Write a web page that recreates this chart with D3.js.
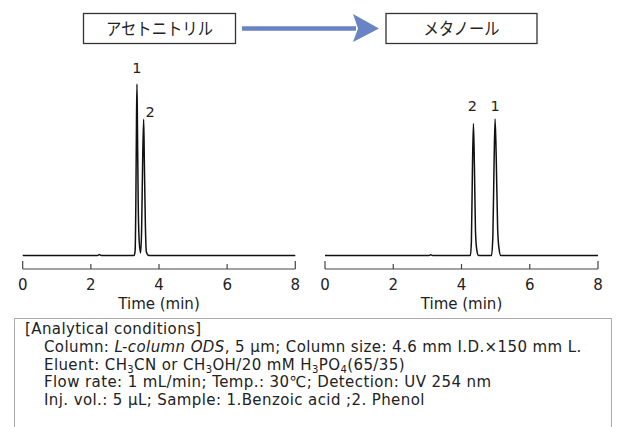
<!DOCTYPE html>
<html><head><meta charset="utf-8">
<script src="https://cdn.jsdelivr.net/npm/d3@7"></script>
<style>
html,body{margin:0;padding:0;background:#fff;}
svg{display:block;}
</style></head>
<body>
<svg id="c" width="619" height="427"></svg>
<script>
// ---- data ----
const solventLabels = ["アセトニトリル", "メタノール"];
const xTicks = [0, 2, 4, 6, 8];
const xLabel = "Time (min)";

// Acetonitrile chromatogram (time min, signal arbitrary)
const acnTime   = [0, 2.20, 2.25, 2.30, 3.27, 3.30, 3.32, 3.34, 3.354, 3.37, 3.39, 3.42, 3.46, 3.49, 3.52, 3.55, 3.57, 3.60, 3.63, 3.70, 8];
const acnSignal = [0, 0,    0.6,  0,    0,    3,    30,   80,   100,   70,   30,   8,    1.5,  15,   55,   79.4, 55,   18,   2,    0,    0];
// Methanol chromatogram
const meohTime   = [0, 3.05, 3.10, 3.15, 4.26, 4.29, 4.32, 4.35, 4.38, 4.41, 4.45, 4.50, 4.88, 4.92, 4.955, 4.985, 5.02, 5.06, 5.10, 5.15, 8];
const meohSignal = [0, 0,    0.4,  0,    0,    8,    50,   77,   50,   14,   3,    0,    0,    12,   55,    79.6,  55,   15,   4,    0,    0];

const acnPeaks  = [{label:"1", t:3.354, s:100}, {label:"2", t:3.55, s:79.4}];
const meohPeaks = [{label:"2", t:4.35, s:77}, {label:"1", t:4.985, s:79.6}];

const conditionLines = [
  [{t:"[Analytical  conditions]"}],
  [{t:"Column: "},{t:"L-column ODS",i:true},{t:", 5 µm; Column size: 4.6 mm I.D.×150 mm L."}],
  [{t:"Eluent: CH"},{t:"3",sub:true},{t:"CN or CH"},{t:"3",sub:true},{t:"OH/20 mM H"},{t:"3",sub:true},{t:"PO"},{t:"4",sub:true},{t:"(65/35)"}],
  [{t:"Flow rate: 1 mL/min; Temp.: 30℃; Detection: UV 254 nm"}],
  [{t:"Inj. vol.: 5 µL; Sample: 1.Benzoic acid ;2. Phenol"}]
];

// ---- drawing ----
const svg = d3.select("#c");
const txtFont = "'DejaVu Sans', Verdana, sans-serif";
const jpFont = "'Noto Sans CJK JP', sans-serif";

// header boxes
const boxes = [{x:83.5, w:152, tl:107}, {x:386, w:151, tl:76}];
boxes.forEach((b,i)=>{
  svg.append("rect").attr("x",b.x).attr("y",13.5).attr("width",b.w).attr("height",30)
    .attr("fill","#fff").attr("stroke","#333").attr("stroke-width",1.3);
  svg.append("text").attr("x",b.x+b.w/2 - b.tl/2).attr("y",35)
    .attr("textLength",b.tl).attr("lengthAdjust","spacingAndGlyphs")
    .attr("font-family",jpFont).attr("font-size",17).attr("fill","#222").text(solventLabels[i]);
});
// arrow
svg.append("line").attr("x1",242).attr("x2",356).attr("y1",28.5).attr("y2",28.5)
  .attr("stroke","#6884c4").attr("stroke-width",4.5);
svg.append("path").attr("d","M353,14 L379,28.5 L353,42 L358,28.5 Z").attr("fill","#6884c4");

const y = d3.scaleLinear().domain([0,100]).range([255.5, 84]);
const axisY = 269;

function panel(x0, x1, times, signals, peaks, labelPos){
  const x = d3.scaleLinear().domain([0,8]).range([x0,x1]);
  const pts = times.map((t,i)=>[t, signals[i]]);
  const line = d3.line().x(d=>x(d[0])).y(d=>y(d[1])).curve(d3.curveMonotoneX);
  svg.append("path").attr("d",line(pts)).attr("fill","none").attr("stroke","#111")
    .attr("stroke-width",1.5).attr("stroke-linejoin","round");
  // axis
  const g = svg.append("g");
  g.append("line").attr("x1",x(0)).attr("x2",x(8)).attr("y1",axisY).attr("y2",axisY)
    .attr("stroke","#444").attr("stroke-width",1.2);
  xTicks.forEach((t,i)=>{
    const end = (i===0||i===xTicks.length-1);
    g.append("line").attr("x1",x(t)).attr("x2",x(t)).attr("y1",axisY).attr("y2",axisY-(end?8:5))
      .attr("stroke","#444").attr("stroke-width",1.2);
    g.append("text").attr("x",x(t)).attr("y",axisY+21).attr("text-anchor","middle")
      .attr("font-family",txtFont).attr("font-size",15).attr("fill","#222").text(t);
  });
  g.append("text").attr("x",(x(0)+x(8))/2).attr("y",axisY+40).attr("text-anchor","middle")
    .attr("font-family",txtFont).attr("font-size",15).attr("fill","#222").text(xLabel);
  peaks.forEach((p,i)=>{
    const lp = labelPos[i];
    svg.append("text").attr("x",x(p.t)+lp.dx).attr("y",y(p.s)+lp.dy).attr("text-anchor","middle")
      .attr("font-family",txtFont).attr("font-size",14.5).attr("fill","#222").text(p.label);
  });
}
panel(22.7, 295.3, acnTime, acnSignal, acnPeaks, [{dx:0,dy:-11},{dx:6.5,dy:-2}]);
panel(325, 598, meohTime, meohSignal, meohPeaks, [{dx:-1,dy:-12},{dx:0,dy:-8}]);

// conditions box
svg.append("rect").attr("x",14.5).attr("y",318.5).attr("width",597).attr("height",120)
  .attr("fill","none").attr("stroke","#aaa").attr("stroke-width",1);
conditionLines.forEach((ln,i)=>{
  const t = svg.append("text").attr("x", i===0?25:44).attr("y",334+i*17.8)
    .attr("font-family",txtFont).attr("font-size",15).attr("letter-spacing",0.4).attr("fill","#222");
  let prevSub = false;
  ln.forEach(seg=>{
    const ts = t.append("tspan").text(seg.t);
    if(seg.i) ts.attr("font-style","italic");
    if(seg.sub) ts.attr("font-size",10).attr("dy",3);
    else if(prevSub) ts.attr("dy",-3);
    prevSub = !!seg.sub;
  });
});
</script>
</body></html>
